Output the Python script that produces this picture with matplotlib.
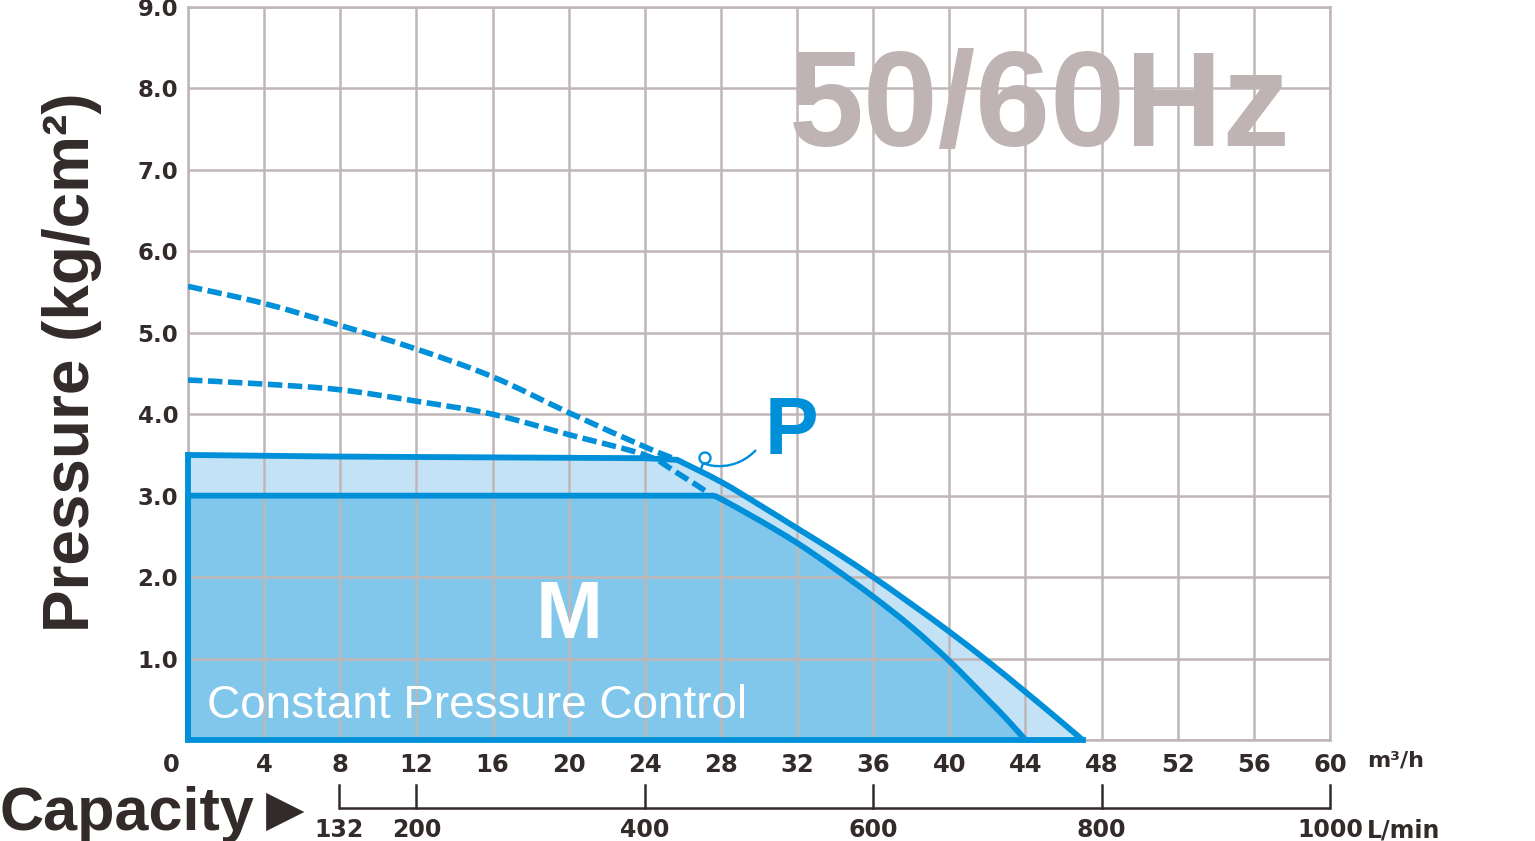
import numpy as np
import matplotlib.pyplot as plt
from matplotlib.path import Path
from matplotlib.patches import PathPatch

# Data (flow in m3/h, pressure in kg/cm2)
flow_p = [0, 8, 16, 24, 25.7, 28, 30, 32, 34, 36, 38, 40, 42, 44, 46, 47]
pres_p = [3.50, 3.48, 3.47, 3.46, 3.44, 3.17, 2.89, 2.60, 2.31, 2.00, 1.67, 1.33, 0.97, 0.59, 0.20, 0.0]
kink_p = 4  # index where the P curve starts to fall

flow_m = [0, 27.6, 28, 30, 32, 34, 36, 38, 40, 42, 43, 44]
pres_m = [3.0, 3.0, 2.96, 2.70, 2.42, 2.10, 1.76, 1.39, 0.97, 0.50, 0.26, 0.0]
kink_m = 1

flow_dash_hi = [0, 4, 8, 12, 16, 20, 24, 25.7]
pres_dash_hi = [5.57, 5.36, 5.09, 4.80, 4.46, 4.02, 3.60, 3.44]
flow_dash_lo = [0, 4, 8, 12, 16, 20, 24, 25.7, 27.3]
pres_dash_lo = [4.42, 4.37, 4.30, 4.16, 4.00, 3.75, 3.50, 3.28, 3.04]

m3h_ticks = list(range(0, 61, 4))
pres_ticks = [1, 2, 3, 4, 5, 6, 7, 8, 9]
lmin_ticks = [132, 200, 400, 600, 800, 1000]

BLUE = '#0090d9'
LIGHT = '#c3e2f5'
MID = '#80c7eb'
GRID = '#c0b6b6'
DARK = '#322b2a'


def curve_path(xs, ys, kink=0, close=False):
    """Straight up to the kink, smooth Catmull-Rom curve after it."""
    pts = np.column_stack([xs, ys]).astype(float)
    verts = [(0.0, 0.0), tuple(pts[0])]
    codes = [Path.MOVETO, Path.LINETO]
    for p in pts[1:kink + 1]:
        verts.append(tuple(p))
        codes.append(Path.LINETO)
    seg = pts[kink:]
    n = len(seg)
    for i in range(n - 1):
        p0 = seg[max(i - 1, 0)]
        p1, p2 = seg[i], seg[i + 1]
        p3 = seg[min(i + 2, n - 1)]
        c1 = p1 + (p2 - p0) / 6
        c2 = p2 - (p3 - p1) / 6
        verts += [tuple(c1), tuple(c2), tuple(p2)]
        codes += [Path.CURVE4] * 3
    if close:
        verts += [(0.0, 0.0)]
        codes += [Path.LINETO]
    return Path(verts, codes)


def smooth_line(xs, ys):
    pts = np.column_stack([xs, ys]).astype(float)
    verts, codes = [tuple(pts[0])], [Path.MOVETO]
    n = len(pts)
    for i in range(n - 1):
        p0 = pts[max(i - 1, 0)]
        p1, p2 = pts[i], pts[i + 1]
        p3 = pts[min(i + 2, n - 1)]
        verts += [tuple(p1 + (p2 - p0) / 6), tuple(p2 - (p3 - p1) / 6), tuple(p2)]
        codes += [Path.CURVE4] * 3
    return Path(verts, codes)


W, H = 1535, 841
fig = plt.figure(figsize=(W / 100, H / 100), dpi=100)
x0, x1, ytop, ybot = 188, 1330, 7, 740
ax = fig.add_axes([x0 / W, 1 - ybot / H, (x1 - x0) / W, (ybot - ytop) / H])
ax.set_xlim(0, 60)
ax.set_ylim(0, 9)

# grid
ax.set_xticks(m3h_ticks)
ax.set_yticks(range(0, 10))
ax.grid(True, color=GRID, lw=1.8)
ax.set_axisbelow(False)
for s in ax.spines.values():
    s.set_color(GRID)
    s.set_linewidth(1.8)
ax.tick_params(length=0)

ax.set_yticklabels([''] + [f'{v:.1f}' for v in pres_ticks],
                   fontfamily='DejaVu Sans', fontweight='bold', fontsize=16.5, color=DARK)
ax.tick_params(axis='y', pad=7)
ax.set_xticklabels([''] + [str(v) for v in m3h_ticks[1:]],
                   fontfamily='DejaVu Sans', fontweight='bold', fontsize=17.5, color=DARK)
ax.tick_params(axis='x', pad=9)
ax.text(-0.9, -0.31, '0', ha='center', va='center', fontfamily='DejaVu Sans',
        fontweight='bold', fontsize=17.5, color=DARK)

# filled regions
ax.add_patch(PathPatch(curve_path(flow_p, pres_p, kink_p, close=True), fc=LIGHT, lw=0, zorder=1))
ax.add_patch(PathPatch(curve_path(flow_m, pres_m, kink_m, close=True), fc=MID, lw=0, zorder=1.1))

# dashed curves
dash = (0, (2.6, 1.0))
for fx, py in [(flow_dash_hi, pres_dash_hi), (flow_dash_lo, pres_dash_lo)]:
    ax.add_patch(PathPatch(smooth_line(fx, py), fill=False, ec=BLUE, lw=4.0, ls=dash,
                           capstyle='butt', zorder=2.8))

# outlines
for fx, py, k in [(flow_p, pres_p, kink_p), (flow_m, pres_m, kink_m)]:
    ax.add_patch(PathPatch(curve_path(fx, py, k), fill=False, ec=BLUE, lw=4.2,
                           joinstyle='miter', zorder=3, clip_on=False))
ax.plot([0, flow_p[-1]], [0, 0], color=BLUE, lw=4.2, zorder=3, clip_on=False)

# leader curl next to P
sx, sy = 60 / (x1 - x0), 9 / (ybot - ytop)
def px(x, y):
    return ((x - x0) * sx, (ybot - y) * sy)
th = np.linspace(-0.6 * np.pi, 1.45 * np.pi, 40)
loop = [px(705 + 5.5 * np.cos(a), 458 - 5.5 * np.sin(a)) for a in th]
start = [px(700, 474), px(702, 466)]
tail_ctrl = [px(709, 466), px(735, 472), px(756, 450)]
verts = start + loop + tail_ctrl
codes = [Path.MOVETO] + [Path.LINETO] * (len(start) + len(loop) - 1) + [Path.CURVE4] * 3
ax.add_patch(PathPatch(Path(verts, codes), fill=False, ec=BLUE, lw=1.7, zorder=3.5))

# labels inside the plot
ax.text(20.0, 1.51, 'M', color='white', fontfamily='Liberation Sans', fontweight='bold',
        fontsize=58, ha='center', va='center', zorder=4)
ax.text(31.7, 3.77, 'P', color=BLUE, fontfamily='Liberation Sans', fontweight='bold',
        fontsize=58, ha='center', va='center', zorder=4)
ax.text(1.0, 0.27, 'Constant Pressure Control', color='white', fontfamily='Liberation Sans',
        fontsize=33, ha='left', va='baseline', zorder=4)
ax.text(31.55, 7.29, '50/60Hz', color='#bfb3b3', fontfamily='Liberation Sans', fontweight='bold',
        fontsize=97, ha='left', va='baseline', zorder=4)

# L/min scale
tr = ax.get_xaxis_transform()
y_line = (ybot - 808) / (ybot - ytop)
y_tick = (ybot - 785) / (ybot - ytop)
y_lab = (ybot - 830) / (ybot - ytop)
conv = 1000 / 60
pos = [v / conv for v in lmin_ticks]
ax.plot([pos[0], pos[-1]], [y_line, y_line], color=DARK, lw=1.8, transform=tr, clip_on=False,
        solid_capstyle='butt')
for p, v in zip(pos, lmin_ticks):
    ax.plot([p, p], [y_line, y_tick], color=DARK, lw=1.8, transform=tr, clip_on=False)
    ax.text(p, y_lab, str(v), transform=tr, ha='center', va='center', fontfamily='DejaVu Sans',
            fontweight='bold', fontsize=17, color=DARK)

fig.text(1367 / W, 1 - 760 / H, 'm³/h', ha='left', va='center', fontfamily='DejaVu Sans',
         fontweight='bold', fontsize=16, color=DARK)
fig.text(1367 / W, 1 - 830 / H, 'L/min', ha='left', va='center', fontfamily='DejaVu Sans',
         fontweight='bold', fontsize=17, color=DARK)

# axis titles
fig.text(72 / W, 1 - 362 / H, 'Pressure (kg/cm²)', rotation=90, ha='center', va='center',
         fontfamily='Liberation Sans', fontweight='bold', fontsize=46, color=DARK)
fig.text(0 / W, 1 - 830 / H, 'Capacity', ha='left', va='baseline',
         fontfamily='Liberation Sans', fontweight='bold', fontsize=44, color=DARK)
fig.text(285 / W, 1 - 811 / H, '▶', ha='center', va='center',
         fontfamily='DejaVu Sans', fontsize=36, color=DARK)

fig.savefig('out.png', dpi=100)
